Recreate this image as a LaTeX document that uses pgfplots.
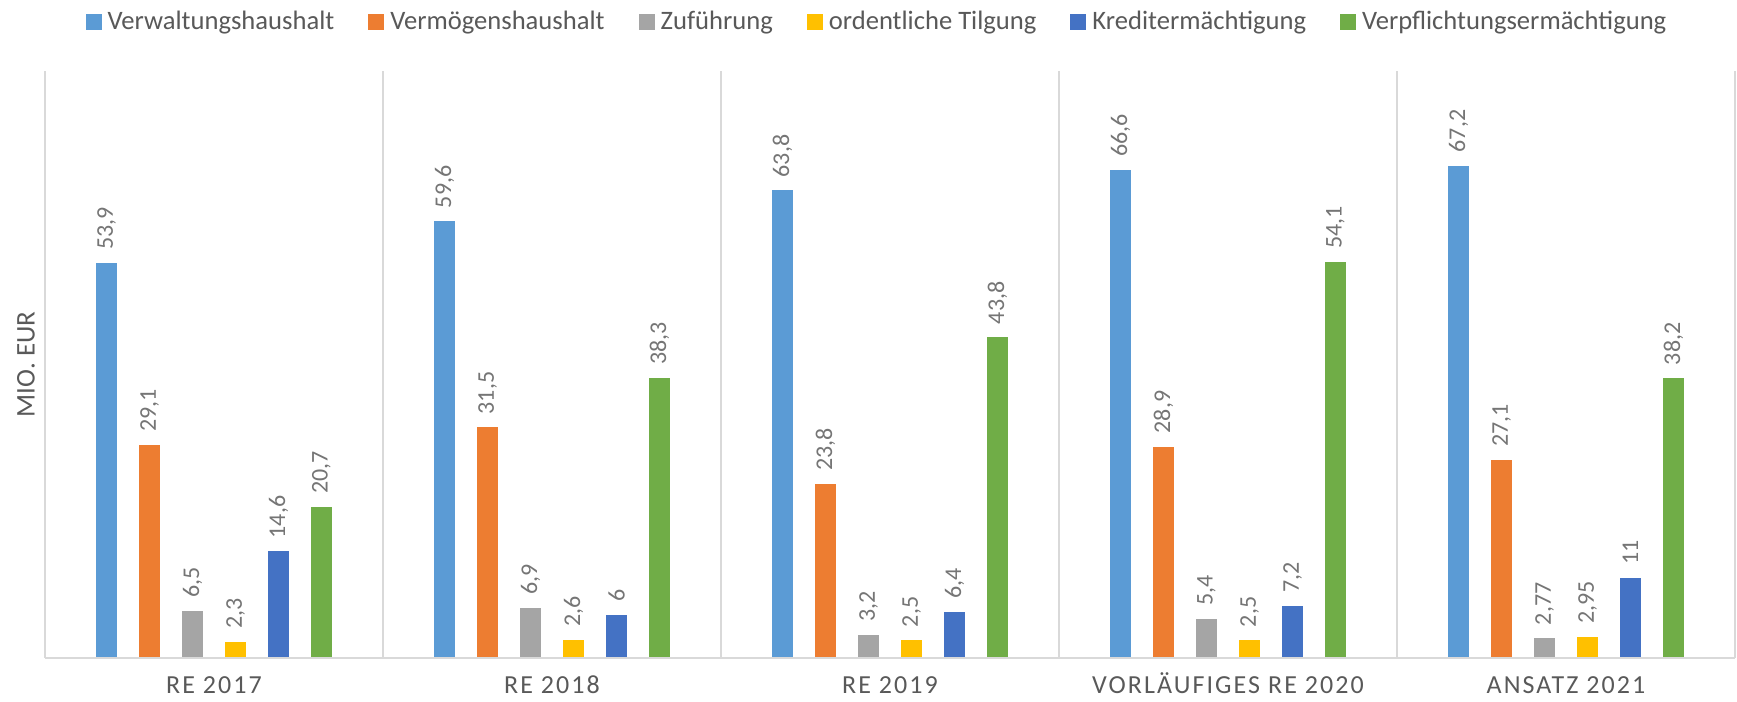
\documentclass[border=0pt]{standalone}
\usepackage{pgfplots}
\pgfplotsset{compat=1.18}
\usepackage{fontspec}
\setmainfont{Carlito}
\newfontfamily\spaced[LetterSpace=8]{Carlito}

\definecolor{cVerw}{HTML}{5B9BD5}
\definecolor{cVerm}{HTML}{ED7D31}
\definecolor{cZuf}{HTML}{A5A5A5}
\definecolor{cTilg}{HTML}{FFC000}
\definecolor{cKred}{HTML}{4472C4}
\definecolor{cVerp}{HTML}{70AD47}
\definecolor{lbl}{HTML}{595959}
\definecolor{val}{HTML}{757575}
\definecolor{sep}{HTML}{D9D9D9}

\begin{document}
\begin{tikzpicture}
\begin{axis}[
    name=ax,
    scale only axis, width=845pt, height=293.5pt,
    xmin=-0.5, xmax=4.5, ymin=0, ymax=80,
    ybar, bar width=0.066,
    clip=false,
    axis line style={draw=none},
    ytick=\empty,
    xtick={0,...,4},
    xticklabels={RE 2017, RE 2018, RE 2019, VORLÄUFIGES RE 2020, ANSATZ 2021},
    xticklabel style={font=\fontsize{13}{15}\selectfont\spaced, text=lbl,
                      anchor=base, inner sep=0pt, yshift=-18pt},
    major tick length=0pt, minor tick length=0pt,
    minor xtick={-0.5,0.5,...,4.5},
    xminorgrids, minor grid style={draw=sep, line width=0.75pt},
    ylabel={MIO. EUR},
    ylabel style={at={(rel axis cs:0,0.5)}, anchor=center, yshift=9.5pt,
                  font=\fontsize{13.5}{15}\selectfont, text=lbl},
    /pgf/number format/use comma,
    /pgf/number format/assume math mode=true,
    nodes near coords={\pgfmathprintnumber{\pgfplotspointmeta}},
    nodes near coords style={rotate=90, anchor=west, inner xsep=6pt, inner ysep=0pt,
                             font=\fontsize{12}{14}\selectfont, text=val},
    every axis plot/.append style={draw=white, line width=0.6pt},
    legend columns=6,
    legend style={at={(0.5,1)}, anchor=center, xshift=-5.5pt, yshift=24.5pt,
                  draw=none, font=\fontsize{13.3}{16}\selectfont, text=lbl,
                  nodes={inner xsep=3pt},
                  /tikz/every even column/.append style={column sep=14pt}},
    legend image code/.code={\draw[#1, draw=none] (0pt,-4pt) rectangle (8pt,4pt);},
]
\addplot[fill=cVerw, bar shift=-0.318] coordinates {(0,53.9) (1,59.6) (2,63.8) (3,66.6) (4,67.2)};
\addlegendentry{Verwaltungshaushalt}
\addplot[fill=cVerm, bar shift=-0.1908] coordinates {(0,29.1) (1,31.5) (2,23.8) (3,28.9) (4,27.1)};
\addlegendentry{Vermögenshaushalt}
\addplot[fill=cZuf, bar shift=-0.0636] coordinates {(0,6.5) (1,6.9) (2,3.2) (3,5.4) (4,2.77)};
\addlegendentry{Zuführung}
\addplot[fill=cTilg, bar shift=0.0636] coordinates {(0,2.3) (1,2.6) (2,2.5) (3,2.5) (4,2.95)};
\addlegendentry{ordentliche Tilgung}
\addplot[fill=cKred, bar shift=0.1908] coordinates {(0,14.6) (1,6) (2,6.4) (3,7.2) (4,11)};
\addlegendentry{Kreditermächtigung}
\addplot[fill=cVerp, bar shift=0.318] coordinates {(0,20.7) (1,38.3) (2,43.8) (3,54.1) (4,38.2)};
\addlegendentry{Verpflichtungsermächtigung}
\draw[sep, line width=0.75pt] (rel axis cs:0,0) -- (rel axis cs:1,0);
\end{axis}
\pgfresetboundingbox
\path ([shift={(-22.5pt,-22pt)}]ax.south west) rectangle ([shift={(1pt,35.5pt)}]ax.north east);
\end{tikzpicture}
\end{document}
